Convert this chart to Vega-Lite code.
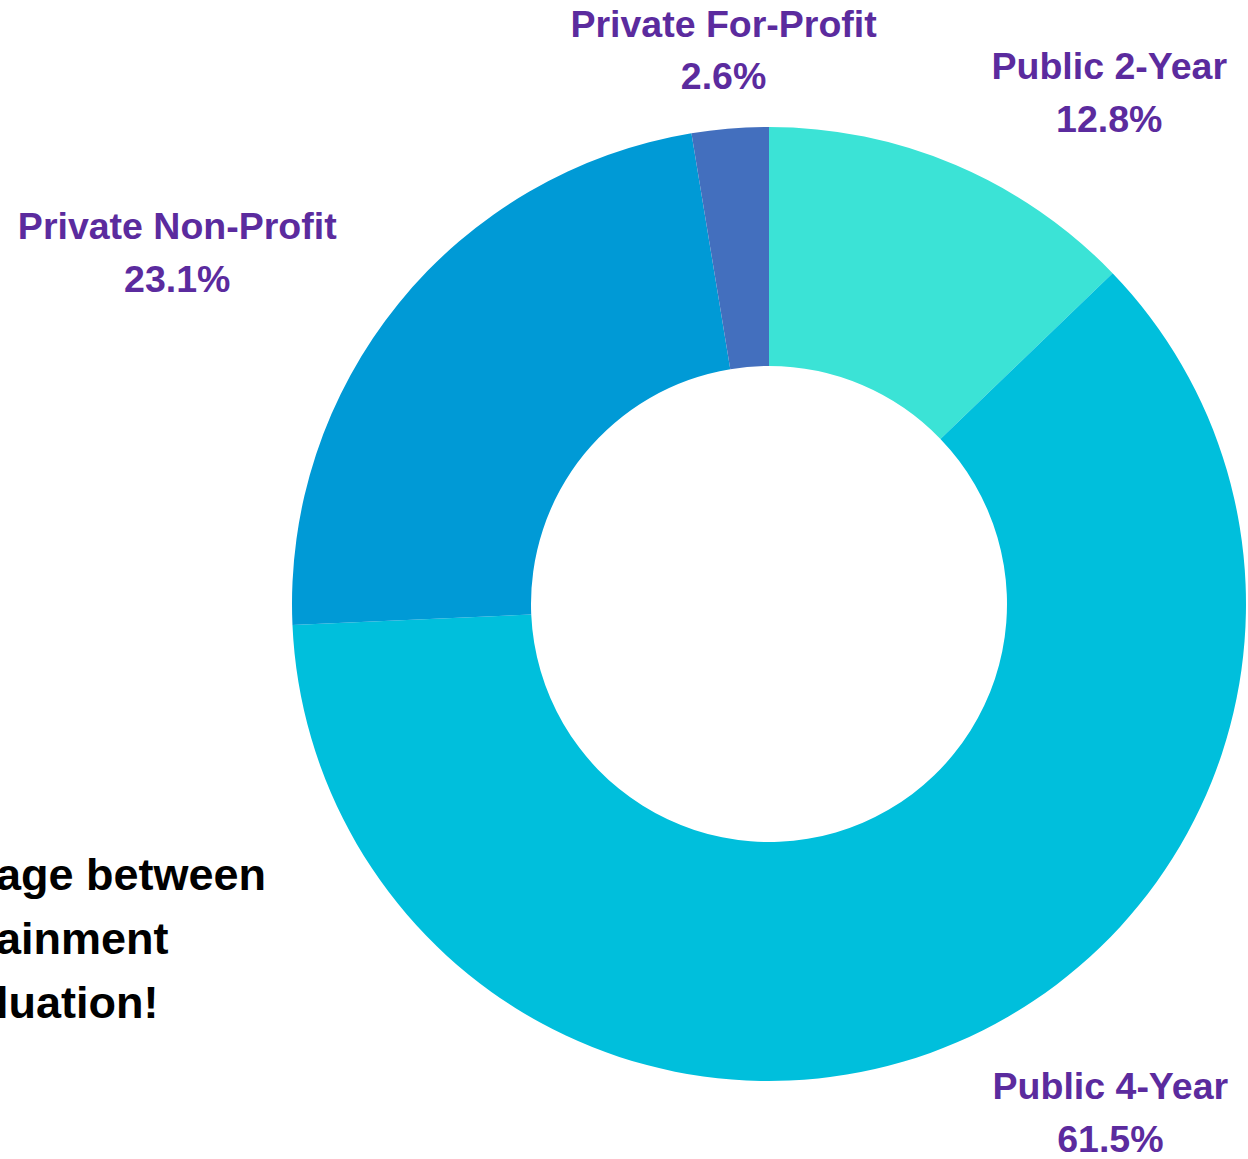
{
  "$schema": "https://vega.github.io/schema/vega-lite/v6.json",
  "width": 958,
  "height": 1110,
  "autosize": {"type": "none"},
  "padding": {"left": 290, "top": 49, "right": 0, "bottom": 0},
  "background": "white",
  "config": {"view": {"stroke": null}},
  "data": {
    "values": [
      {"name": "Public 2-Year", "value": 12.8, "order": 1, "label": "Public 2-Year\n12.8%"},
      {"name": "Public 4-Year", "value": 61.5, "order": 2, "label": "Public 4-Year\n61.5%"},
      {"name": "Private Non-Profit", "value": 23.1, "order": 3, "label": "Private Non-Profit\n23.1%"},
      {"name": "Private For-Profit", "value": 2.6, "order": 4, "label": "Private For-Profit\n2.6%"}
    ]
  },
  "layer": [
    {
      "mark": {"type": "arc", "radius": 477, "radius2": 238},
      "encoding": {
        "theta": {"field": "value", "type": "quantitative", "stack": true},
        "order": {"field": "order", "type": "quantitative"},
        "color": {
          "field": "name",
          "type": "nominal",
          "scale": {
            "domain": ["Public 2-Year", "Public 4-Year", "Private Non-Profit", "Private For-Profit"],
            "range": ["#3be3d6", "#00bfdc", "#009ad6", "#436fbe"]
          },
          "legend": null
        }
      }
    },
    {
      "mark": {"type": "text", "radius": 570.5, "dx": 117, "align": "center", "baseline": "alphabetic", "font": "Liberation Sans", "fontWeight": "bold", "fontSize": 37.5, "lineHeight": 53, "lineBreak": "\n", "color": "#5b2b9e"},
      "encoding": {
        "theta": {"field": "value", "type": "quantitative", "stack": true},
        "order": {"field": "order", "type": "quantitative"},
        "text": {"condition": {"test": "datum.name === 'Public 2-Year'", "field": "label"}, "value": ""}
      }
    },
    {
      "mark": {"type": "text", "radius": 538.6, "dx": 129, "align": "center", "baseline": "alphabetic", "font": "Liberation Sans", "fontWeight": "bold", "fontSize": 37.5, "lineHeight": 53, "lineBreak": "\n", "color": "#5b2b9e"},
      "encoding": {
        "theta": {"field": "value", "type": "quantitative", "stack": true},
        "order": {"field": "order", "type": "quantitative"},
        "text": {"condition": {"test": "datum.name === 'Public 4-Year'", "field": "label"}, "value": ""}
      }
    },
    {
      "mark": {"type": "text", "radius": 579.2, "dx": -142, "align": "center", "baseline": "alphabetic", "font": "Liberation Sans", "fontWeight": "bold", "fontSize": 37.5, "lineHeight": 53, "lineBreak": "\n", "color": "#5b2b9e"},
      "encoding": {
        "theta": {"field": "value", "type": "quantitative", "stack": true},
        "order": {"field": "order", "type": "quantitative"},
        "text": {"condition": {"test": "datum.name === 'Private Non-Profit'", "field": "label"}, "value": ""}
      }
    },
    {
      "mark": {"type": "text", "radius": 568.9, "dx": 1, "align": "center", "baseline": "alphabetic", "font": "Liberation Sans", "fontWeight": "bold", "fontSize": 37.5, "lineHeight": 52, "lineBreak": "\n", "color": "#5b2b9e"},
      "encoding": {
        "theta": {"field": "value", "type": "quantitative", "stack": true},
        "order": {"field": "order", "type": "quantitative"},
        "text": {"condition": {"test": "datum.name === 'Private For-Profit'", "field": "label"}, "value": ""}
      }
    },
    {
      "data": {"values": [{"note": "age between\nainment\nluation!"}]},
      "mark": {"type": "text", "x": -294, "y": 841, "align": "left", "baseline": "alphabetic", "font": "Liberation Sans", "fontWeight": "bold", "fontSize": 45, "lineHeight": 64, "lineBreak": "\n", "color": "#000000"},
      "encoding": {
        "text": {"field": "note", "type": "nominal"}
      }
    }
  ]
}
